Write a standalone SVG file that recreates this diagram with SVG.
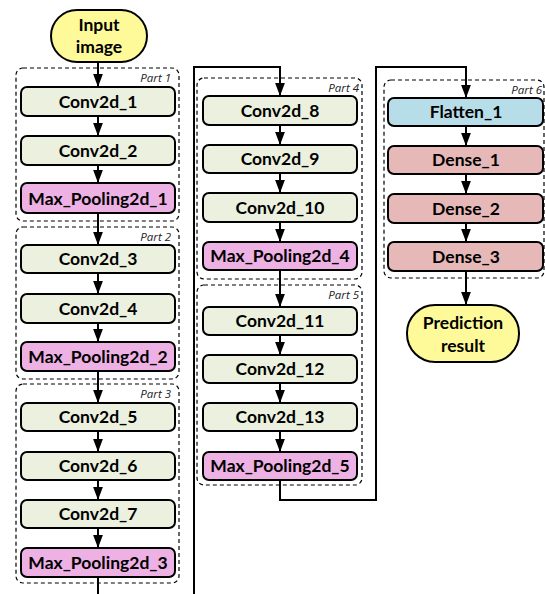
<svg xmlns="http://www.w3.org/2000/svg" width="545" height="594" viewBox="0 0 545 594">
<style>
.box{stroke:#000;stroke-width:2}
.conv{fill:#EBF1DE}
.pool{fill:#EEB1E4}
.flat{fill:#B7DDE8}
.dense{fill:#E6B9B8}
.term{fill:#FFFA99;stroke:#000;stroke-width:2}
.part{fill:none;stroke:#000;stroke-width:1.2;stroke-dasharray:4,3}
.lbl{font-family:Lato,"Open Sans","Liberation Sans",sans-serif;font-weight:bold;font-size:17.5px;text-anchor:middle;fill:#000}
.plbl{font-family:"Open Sans","Liberation Sans",sans-serif;font-style:italic;font-size:11.5px;text-anchor:end;fill:#222}
.conn{fill:none;stroke:#000;stroke-width:2}
</style>
<defs>
<marker id="ah" viewBox="0 0 12 9" refX="12" refY="4.5" markerWidth="6.5" markerHeight="5" markerUnits="strokeWidth" orient="auto">
<path d="M0,0 L12,4.5 L0,9 z" fill="#000"/>
</marker>
</defs>

<g id="parts">
<g id="part1"><rect class="part" x="16" y="68" width="163" height="153" rx="7"/><text class="plbl" x="171" y="82">Part 1</text></g>
<g id="part2"><rect class="part" x="16" y="227" width="163" height="152" rx="7"/><text class="plbl" x="171" y="241">Part 2</text></g>
<g id="part3"><rect class="part" x="16" y="384" width="163" height="199" rx="7"/><text class="plbl" x="171" y="398">Part 3</text></g>
<g id="part4"><rect class="part" x="197" y="78" width="165" height="201" rx="7"/><text class="plbl" x="359" y="92">Part 4</text></g>
<g id="part5"><rect class="part" x="197" y="285" width="165" height="200" rx="7"/><text class="plbl" x="359" y="299">Part 5</text></g>
<g id="part6"><rect class="part" x="384" y="80" width="160" height="198" rx="7"/><text class="plbl" x="542" y="94">Part 6</text></g>
</g>

<g id="connectors">
<path class="conn" d="M98,62 V87" marker-end="url(#ah)"/>
<path class="conn" d="M98,116 V136" marker-end="url(#ah)"/>
<path class="conn" d="M98,165 V183" marker-end="url(#ah)"/>
<path class="conn" d="M98,213 V245" marker-end="url(#ah)"/>
<path class="conn" d="M98,273 V294" marker-end="url(#ah)"/>
<path class="conn" d="M98,323 V342" marker-end="url(#ah)"/>
<path class="conn" d="M98,371 V403" marker-end="url(#ah)"/>
<path class="conn" d="M98,431 V452" marker-end="url(#ah)"/>
<path class="conn" d="M98,480 V500" marker-end="url(#ah)"/>
<path class="conn" d="M98,528 V548" marker-end="url(#ah)"/>
<path class="conn" d="M98,577 V600 H194 V67 H280 V96" marker-end="url(#ah)"/>
<path class="conn" d="M280,125 V145" marker-end="url(#ah)"/>
<path class="conn" d="M280,173 V193" marker-end="url(#ah)"/>
<path class="conn" d="M280,222 V242" marker-end="url(#ah)"/>
<path class="conn" d="M280,270 V307" marker-end="url(#ah)"/>
<path class="conn" d="M280,335 V355" marker-end="url(#ah)"/>
<path class="conn" d="M280,383 V403" marker-end="url(#ah)"/>
<path class="conn" d="M280,431 V452" marker-end="url(#ah)"/>
<path class="conn" d="M280,480 V500 H376 V67 H466 V98" marker-end="url(#ah)"/>
<path class="conn" d="M466,126 V146" marker-end="url(#ah)"/>
<path class="conn" d="M466,174 V194" marker-end="url(#ah)"/>
<path class="conn" d="M466,223 V242" marker-end="url(#ah)"/>
<path class="conn" d="M466,271 V305" marker-end="url(#ah)"/>
</g>

<g id="input"><rect class="term" x="51" y="10" width="96" height="52" rx="26"/><text class="lbl" x="99" y="31">Input</text><text class="lbl" x="99" y="53">image</text></g>

<g id="conv2d_1"><rect class="box conv" x="21" y="87" width="154" height="29" rx="6"/><text class="lbl" x="98" y="108">Conv2d_1</text></g>
<g id="conv2d_2"><rect class="box conv" x="21" y="136" width="154" height="29" rx="6"/><text class="lbl" x="98" y="157">Conv2d_2</text></g>
<g id="max_pooling2d_1"><rect class="box pool" x="21" y="183" width="154" height="30" rx="6"/><text class="lbl" x="98" y="205">Max_Pooling2d_1</text></g>
<g id="conv2d_3"><rect class="box conv" x="21" y="245" width="154" height="28" rx="6"/><text class="lbl" x="98" y="265">Conv2d_3</text></g>
<g id="conv2d_4"><rect class="box conv" x="21" y="294" width="154" height="29" rx="6"/><text class="lbl" x="98" y="315">Conv2d_4</text></g>
<g id="max_pooling2d_2"><rect class="box pool" x="21" y="342" width="154" height="29" rx="6"/><text class="lbl" x="98" y="363">Max_Pooling2d_2</text></g>
<g id="conv2d_5"><rect class="box conv" x="21" y="403" width="154" height="28" rx="6"/><text class="lbl" x="98" y="423">Conv2d_5</text></g>
<g id="conv2d_6"><rect class="box conv" x="21" y="452" width="154" height="28" rx="6"/><text class="lbl" x="98" y="472">Conv2d_6</text></g>
<g id="conv2d_7"><rect class="box conv" x="21" y="500" width="154" height="28" rx="6"/><text class="lbl" x="98" y="520">Conv2d_7</text></g>
<g id="max_pooling2d_3"><rect class="box pool" x="21" y="548" width="154" height="29" rx="6"/><text class="lbl" x="98" y="569">Max_Pooling2d_3</text></g>

<g id="conv2d_8"><rect class="box conv" x="203" y="96" width="154" height="29" rx="6"/><text class="lbl" x="280" y="117">Conv2d_8</text></g>
<g id="conv2d_9"><rect class="box conv" x="203" y="145" width="154" height="28" rx="6"/><text class="lbl" x="280" y="165">Conv2d_9</text></g>
<g id="conv2d_10"><rect class="box conv" x="203" y="193" width="154" height="29" rx="6"/><text class="lbl" x="280" y="214">Conv2d_10</text></g>
<g id="max_pooling2d_4"><rect class="box pool" x="203" y="242" width="154" height="28" rx="6"/><text class="lbl" x="280" y="262">Max_Pooling2d_4</text></g>
<g id="conv2d_11"><rect class="box conv" x="203" y="307" width="154" height="28" rx="6"/><text class="lbl" x="280" y="327">Conv2d_11</text></g>
<g id="conv2d_12"><rect class="box conv" x="203" y="355" width="154" height="28" rx="6"/><text class="lbl" x="280" y="375">Conv2d_12</text></g>
<g id="conv2d_13"><rect class="box conv" x="203" y="403" width="154" height="28" rx="6"/><text class="lbl" x="280" y="423">Conv2d_13</text></g>
<g id="max_pooling2d_5"><rect class="box pool" x="203" y="452" width="154" height="28" rx="6"/><text class="lbl" x="280" y="472">Max_Pooling2d_5</text></g>

<g id="flatten_1"><rect class="box flat" x="388" y="98" width="155" height="28" rx="6"/><text class="lbl" x="466" y="118">Flatten_1</text></g>
<g id="dense_1"><rect class="box dense" x="388" y="146" width="155" height="28" rx="6"/><text class="lbl" x="466" y="166">Dense_1</text></g>
<g id="dense_2"><rect class="box dense" x="388" y="194" width="155" height="29" rx="6"/><text class="lbl" x="466" y="215">Dense_2</text></g>
<g id="dense_3"><rect class="box dense" x="388" y="242" width="155" height="29" rx="6"/><text class="lbl" x="466" y="263">Dense_3</text></g>

<g id="prediction"><rect class="term" x="407" y="305" width="112" height="57" rx="28"/><text class="lbl" x="463" y="329">Prediction</text><text class="lbl" x="463" y="352">result</text></g>
</svg>
